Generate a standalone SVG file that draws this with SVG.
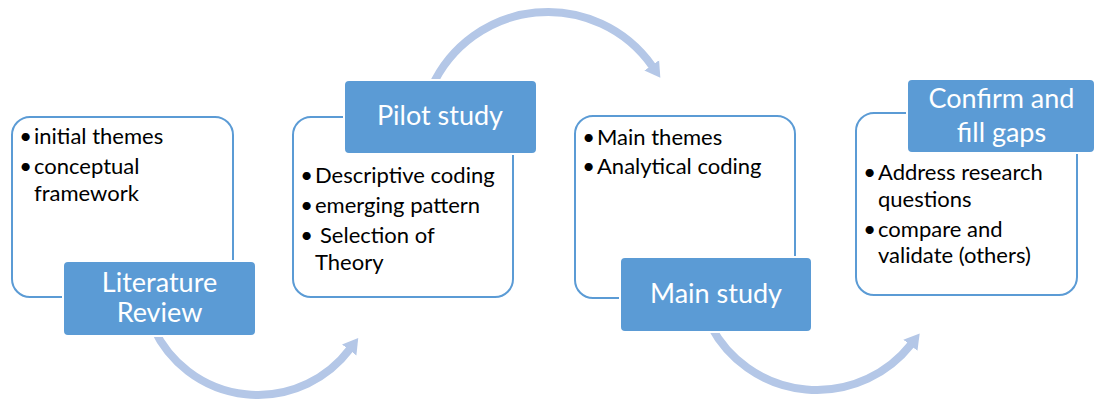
<svg xmlns="http://www.w3.org/2000/svg" width="1096" height="399" viewBox="0 0 1096 399">
  <style>
    .box { fill: #FFFFFF; stroke: #5B9BD5; stroke-width: 2; }
    .lbl { fill: #5B9BD5; stroke: #FFFFFF; stroke-width: 2; }
    .arc { fill: none; stroke: #B4C7E7; stroke-width: 8; }
    .t { font-family: Lato, "Liberation Sans", sans-serif; font-size: 22px; fill: #000000; }
    .b { font-family: Lato, "Liberation Sans", sans-serif; font-size: 22px; fill: #000000; text-anchor: end; }
    .h { font-family: Lato, "Liberation Sans", sans-serif; font-size: 27px; fill: #FFFFFF; text-anchor: middle; }
  </style>
  <defs>
    <marker id="ah" markerUnits="userSpaceOnUse" markerWidth="16" markerHeight="20" refX="1" refY="10" orient="auto">
      <path d="M0,1 L15,10 L0,19 z" fill="#B4C7E7"/>
    </marker>
  </defs>

  <g id="connectors">
    <path class="arc" d="M153.8,328.6 A115,115 0 0 0 349.8,349.2" marker-end="url(#ah)"/>
    <path class="arc" d="M431.5,87.6 A127.5,127.5 0 0 1 652.3,66.2" marker-end="url(#ah)"/>
    <path class="arc" d="M711,326.3 A120,120 0 0 0 911,344.5" marker-end="url(#ah)"/>
  </g>

  <g id="literature-review">
    <rect class="box" x="12" y="117" width="221" height="180" rx="18"/>
    <text class="b" x="32" y="144">•</text><text class="t" x="34" y="144">initial themes</text>
    <text class="b" x="32" y="174">•</text><text class="t" x="34" y="174">conceptual</text>
    <text class="t" x="34" y="201">framework</text>
    <rect class="lbl" x="63" y="261" width="193" height="75" rx="5"/>
    <text class="h" x="159.5" y="292">Literature</text>
    <text class="h" x="159.5" y="322">Review</text>
  </g>

  <g id="pilot-study">
    <rect class="box" x="293" y="117" width="220" height="180" rx="18"/>
    <rect class="lbl" x="344" y="80" width="193" height="74" rx="5"/>
    <text class="h" x="440" y="125">Pilot study</text>
    <text class="b" x="313" y="183">•</text><text class="t" x="315" y="183">Descriptive coding</text>
    <text class="b" x="313" y="213">•</text><text class="t" x="315" y="213">emerging pattern</text>
    <text class="b" x="313" y="243">•</text><text class="t" x="320" y="243">Selection of</text>
    <text class="t" x="315" y="270">Theory</text>
  </g>

  <g id="main-study">
    <rect class="box" x="575" y="116" width="220" height="182" rx="18"/>
    <text class="b" x="595" y="145">•</text><text class="t" x="597" y="145">Main themes</text>
    <text class="b" x="595" y="174">•</text><text class="t" x="597" y="174">Analytical coding</text>
    <rect class="lbl" x="620" y="257" width="192" height="75" rx="5"/>
    <text class="h" x="716" y="303">Main study</text>
  </g>

  <g id="confirm-fill-gaps">
    <rect class="box" x="856" y="113" width="221" height="182" rx="18"/>
    <rect class="lbl" x="907" y="79" width="188" height="74" rx="5"/>
    <text class="h" x="1001.5" y="108">Confirm and</text>
    <text class="h" x="1001.5" y="142">fill gaps</text>
    <text class="b" x="876" y="180">•</text><text class="t" x="878" y="180">Address research</text>
    <text class="t" x="878" y="207">questions</text>
    <text class="b" x="876" y="237">•</text><text class="t" x="878" y="237">compare and</text>
    <text class="t" x="878" y="263">validate (others)</text>
  </g>
</svg>
